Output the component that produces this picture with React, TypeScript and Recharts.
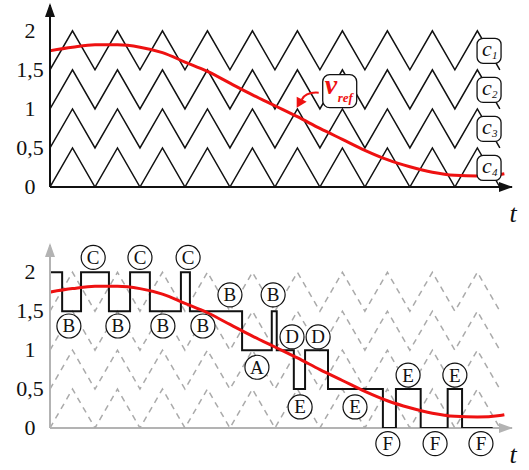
import { ComposedChart, Line, XAxis, YAxis, ReferenceDot, ReferenceLine } from "recharts";

const SERIF = "'Liberation Serif', 'Times New Roman', 'DejaVu Serif', serif";
const RED = "#ee1111";

// carrier sample times (peaks and troughs)
const carrierT = [0, 0.5, 1, 1.5, 2, 2.5, 3, 3.5, 4, 4.5, 5, 5.5, 6, 6.5, 7, 7.5, 8, 8.5, 9, 9.5, 10];
const carrier1 = [1.5, 2, 1.5, 2, 1.5, 2, 1.5, 2, 1.5, 2, 1.5, 2, 1.5, 2, 1.5, 2, 1.5, 2, 1.5, 2, 1.5];
const carrier2 = [1, 1.5, 1, 1.5, 1, 1.5, 1, 1.5, 1, 1.5, 1, 1.5, 1, 1.5, 1, 1.5, 1, 1.5, 1, 1.5, 1];
const carrier3 = [0.5, 1, 0.5, 1, 0.5, 1, 0.5, 1, 0.5, 1, 0.5, 1, 0.5, 1, 0.5, 1, 0.5, 1, 0.5, 1, 0.5];
const carrier4 = [0, 0.5, 0, 0.5, 0, 0.5, 0, 0.5, 0, 0.5, 0, 0.5, 0, 0.5, 0, 0.5, 0, 0.5, 0, 0.5, 0];

// reference waveform
const refT = [-0.05, 0.5, 1, 1.5, 2, 2.5, 3, 3.5, 4, 4.5, 5, 5.5, 6, 6.5, 7, 7.5, 8, 8.5, 9, 9.5, 10, 10.1];
const refV = [1.74, 1.79, 1.82, 1.82, 1.79, 1.72, 1.6, 1.48, 1.33, 1.18, 1.04, 0.9, 0.75, 0.61, 0.47, 0.35, 0.26, 0.19, 0.15, 0.14, 0.16, 0.17];

// multilevel output
const stepT = [0, 0.27, 0.69, 1.31, 1.78, 2.22, 2.91, 3.11, 4.27, 4.93, 5.04, 5.42, 5.67, 6.18, 7.4, 7.69, 8.24, 8.84, 9.16, 9.84];
const stepV = [2, 1.5, 2, 1.5, 2, 1.5, 2, 1.5, 1, 1.5, 1, 0.5, 1, 0.5, 0, 0.5, 0, 0.5, 0, 0];

// circled state labels
const stateText = ["C", "C", "C", "B", "B", "B", "B", "B", "B", "A", "D", "D", "E", "E", "E", "E", "F", "F", "F"];
const stateT = [0.96, 2.0, 3.07, 0.42, 1.51, 2.51, 3.4, 4.0, 4.96, 4.6, 5.38, 5.96, 5.56, 6.78, 7.96, 9.0, 7.51, 8.56, 9.58];
const stateV = [2.19, 2.19, 2.19, 1.31, 1.31, 1.31, 1.31, 1.71, 1.71, 0.78, 1.17, 1.17, 0.27, 0.27, 0.68, 0.68, -0.2, -0.2, -0.2];

// carrier tags
const tagNames = ["1", "2", "3", "4"];
const tagT = 9.76;
const tagV = [1.75, 1.25, 0.75, 0.25];

const yTicks = [0, 0.5, 1, 1.5, 2];
const yTickLabels = ["0", "0,5", "1", "1,5", "2"];
const X_MAX = 10.27;

const toPts = (ts: number[], vs: number[]) => ts.map((t, i) => ({ t, v: vs[i] }));
const carriers = [carrier1, carrier2, carrier3, carrier4].map((c) => toPts(carrierT, c));
const refData = toPts(refT, refV);
const stepData = toPts(stepT, stepV);

const serif = { fontFamily: SERIF };
const serifItalic = { fontFamily: SERIF, fontStyle: "italic" as const };

function YTick(props: any) {
  const idx = yTicks.indexOf(props.payload.value);
  return (
    <text x={30} y={props.y} dy={7} textAnchor="middle" style={serif} fontSize={22} fill="#111">
      {yTickLabels[idx]}
    </text>
  );
}

const upArrow = (color: string) => (p: any) => (
  <path d={`M${p.cx},${p.cy - 2} L${p.cx - 5},${p.cy + 12} L${p.cx + 5},${p.cy + 12} Z`} fill={color} />
);

const rightArrow = (color: string) => (p: any) => (
  <g>
    <path d={`M${p.cx + 1},${p.cy} L${p.cx - 13},${p.cy - 5} L${p.cx - 13},${p.cy + 5} Z`} fill={color} />
    <text x={p.cx + 1} y={p.cy + 35} textAnchor="middle" style={serifItalic} fontSize={26} fill="#111">
      t
    </text>
  </g>
);

const tagShape = (name: string) => (p: any) => (
  <g>
    <rect x={p.cx - 12} y={p.cy - 12} width={24} height={25} rx={6} fill="#fff" stroke="#111" strokeWidth={1.3} />
    <text x={p.cx - 7} y={p.cy + 6} style={serifItalic} fontSize={22} fill="#111">
      c
    </text>
    <text x={p.cx + 3} y={p.cy + 9} style={serifItalic} fontSize={11} fill="#111">
      {name}
    </text>
  </g>
);

const refTag = (p: any) => (
  <g>
    <rect x={p.cx - 17} y={p.cy - 17} width={34} height={33} rx={7} fill="#fff" stroke="#111" strokeWidth={1.3} />
    <text x={p.cx - 15} y={p.cy + 2} style={serifItalic} fontWeight="bold" fontSize={28} fill={RED}>
      v
    </text>
    <text x={p.cx - 2} y={p.cy + 10} style={serifItalic} fontWeight="bold" fontSize={13} fill={RED}>
      ref
    </text>
    <path
      d={`M${p.cx - 21},${p.cy + 1} Q${p.cx - 34},${p.cy + 0} ${p.cx - 38},${p.cy + 8}`}
      fill="none"
      stroke={RED}
      strokeWidth={2}
    />
    <path d={`M${p.cx - 43},${p.cy + 16} L${p.cx - 43},${p.cy + 5} L${p.cx - 33},${p.cy + 10} Z`} fill={RED} />
  </g>
);

const stateShape = (s: string) => (p: any) => (
  <g>
    <circle cx={p.cx} cy={p.cy} r={12} fill="#fff" stroke="#111" strokeWidth={1.2} />
    <text x={p.cx} y={p.cy + 6.5} textAnchor="middle" style={serif} fontSize={19} fill="#111">
      {s}
    </text>
  </g>
);

function TopChart() {
  return (
    <ComposedChart width={529} height={235} margin={{ top: 5, right: 17, bottom: 48, left: 0 }}>
      <XAxis dataKey="t" type="number" domain={[0, X_MAX]} allowDataOverflow hide />
      <YAxis
        type="number"
        domain={[0, 2.33]}
        allowDataOverflow
        ticks={yTicks}
        width={50}
        tick={<YTick />}
        tickLine={false}
        axisLine={{ stroke: "#111", strokeWidth: 2 }}
      />
      <ReferenceLine y={0} stroke="#111" strokeWidth={2} />
      {carriers.map((d, i) => (
        <Line key={i} data={d} dataKey="v" stroke="#111" strokeWidth={1.5} dot={false} activeDot={false} isAnimationActive={false} />
      ))}
      <Line data={refData} dataKey="v" type="monotone" stroke={RED} strokeWidth={3} dot={false} activeDot={false} isAnimationActive={false} />
      {tagNames.map((n, i) => (
        <ReferenceDot key={n} x={tagT} y={tagV[i]} ifOverflow="visible" shape={tagShape(n)} />
      ))}
      <ReferenceDot x={6.44} y={1.22} ifOverflow="visible" shape={refTag} />
      <ReferenceDot x={0} y={2.33} ifOverflow="visible" shape={upArrow("#111")} />
      <ReferenceDot x={X_MAX} y={0} ifOverflow="visible" shape={rightArrow("#111")} />
    </ComposedChart>
  );
}

function BottomChart() {
  const gray = "#b3b3b3";
  return (
    <ComposedChart width={529} height={235} margin={{ top: 10, right: 17, bottom: 42, left: 0 }}>
      <XAxis dataKey="t" type="number" domain={[0, X_MAX]} allowDataOverflow hide />
      <YAxis
        type="number"
        domain={[0, 2.35]}
        allowDataOverflow
        ticks={yTicks}
        width={50}
        tick={<YTick />}
        tickLine={false}
        axisLine={{ stroke: gray, strokeWidth: 2 }}
      />
      <ReferenceLine y={0} stroke={gray} strokeWidth={2} />
      {carriers.map((d, i) => (
        <Line key={i} data={d} dataKey="v" stroke="#aaaaaa" strokeWidth={1.5} strokeDasharray="6 5" dot={false} activeDot={false} isAnimationActive={false} />
      ))}
      <Line data={stepData} dataKey="v" type="stepAfter" stroke="#111" strokeWidth={2} dot={false} activeDot={false} isAnimationActive={false} />
      <Line data={refData} dataKey="v" type="monotone" stroke={RED} strokeWidth={3} dot={false} activeDot={false} isAnimationActive={false} />
      {stateText.map((s, i) => (
        <ReferenceDot key={i} x={stateT[i]} y={stateV[i]} ifOverflow="visible" shape={stateShape(s)} />
      ))}
      <ReferenceDot x={0} y={2.35} ifOverflow="visible" shape={upArrow(gray)} />
      <ReferenceDot x={X_MAX} y={0} ifOverflow="visible" shape={rightArrow(gray)} />
    </ComposedChart>
  );
}

export default function App() {
  return (
    <div style={{ position: "absolute", left: 0, top: 0, width: 529, height: 470, background: "#fff" }}>
      <TopChart />
      <BottomChart />
    </div>
  );
}
